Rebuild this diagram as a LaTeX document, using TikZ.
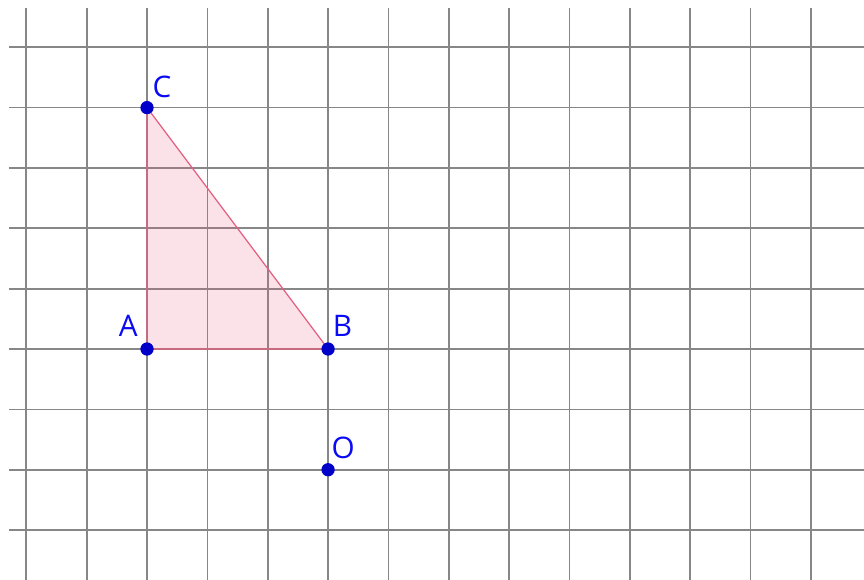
\documentclass[tikz,border=0pt]{standalone}
\usepackage{fontspec}
\setsansfont{Open Sans}
\usepackage{xcolor}
\usetikzlibrary{calc,positioning}
\definecolor{gridgray}{RGB}{135,135,135}
\definecolor{ptblue}{RGB}{0,0,200}
\definecolor{lblblue}{RGB}{10,10,245}
\definecolor{triedge}{RGB}{228,96,128}

\begin{document}
\begin{tikzpicture}[
  gridline/.style={draw=gridgray, line width=0.8pt},
  tri/.style={fill=triedge, fill opacity=0.18, draw=triedge, line width=0.6pt},
  pt/.style={circle, fill=ptblue, inner sep=0pt, minimum size=0.22cm},
  lbl/.style={font=\sffamily\fontsize{14}{14}\selectfont, text=lblblue, inner sep=0pt},
]
\useasboundingbox (-2.436,-3.827) rectangle (11.88,5.783);

% grid
\foreach \x in {-2,...,11}
  \draw[gridline] (\x,5.65) -- (\x,-3.827);
\foreach \y in {-3,...,5}
  \draw[gridline] (-2.29,\y) -- (11.88,\y);

% triangle
\coordinate (A) at (0,0);
\coordinate (B) at (3,0);
\coordinate (C) at (0,4);
\coordinate (O) at (3,-2);
\filldraw[tri] (A) -- (B) -- (C) -- cycle;

% points and labels
\node[pt] (ptA) at (A) {};
\node[pt] (ptB) at (B) {};
\node[pt] (ptC) at (C) {};
\node[pt] (ptO) at (O) {};
\node[lbl] (lA) at ($(A)+(-0.31,0.38)$) {A};
\node[lbl] (lB) at ($(B)+(0.24,0.38)$) {B};
\node[lbl] (lC) at ($(C)+(0.25,0.35)$) {C};
\node[lbl] (lO) at ($(O)+(0.25,0.37)$) {O};
\end{tikzpicture}
\end{document}
